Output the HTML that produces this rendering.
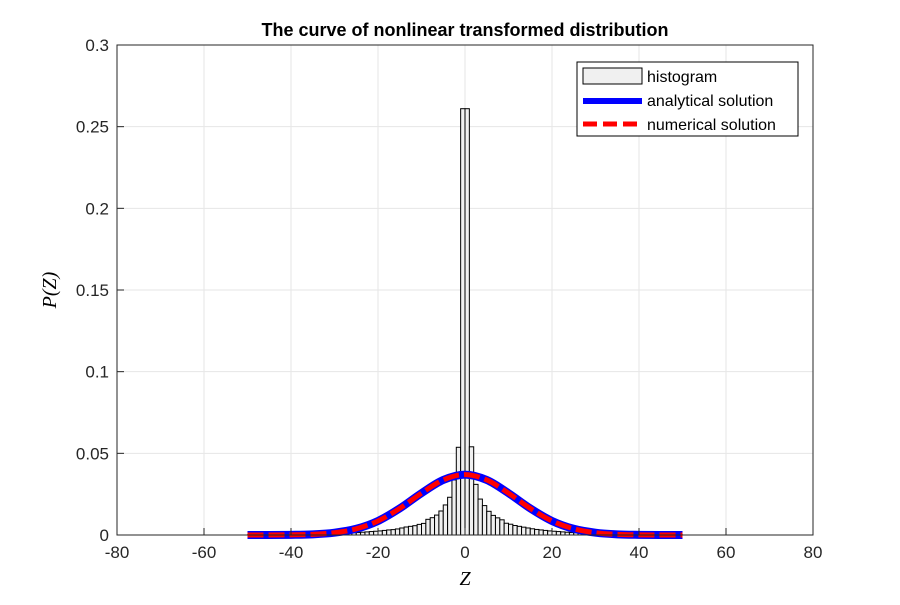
<!DOCTYPE html>
<html><head><meta charset="utf-8"><style>
body{margin:0;background:#fff}
svg text{font-family:"Liberation Sans",sans-serif}
</style></head><body>
<svg id="c" width="900" height="600" xmlns="http://www.w3.org/2000/svg">
<rect width="900" height="600" fill="#fff"/>
<text x="465" y="36" text-anchor="middle" font-size="18" font-weight="bold" fill="#000">The curve of nonlinear transformed distribution</text>
<g id="grid"></g>
<g id="bars"></g>
<g id="curves"></g>
<g id="axes"></g>
<text x="465" y="585" text-anchor="middle" font-size="20" font-style="italic" style="font-family:'Liberation Serif',serif">Z</text>
<text transform="translate(56,290) rotate(-90)" text-anchor="middle" font-size="20" font-style="italic" style="font-family:'Liberation Serif',serif">P(Z)</text>
<g>
<rect x="577" y="62" width="221" height="74" fill="#fff" stroke="#000" stroke-width="1"/>
<rect x="583" y="68" width="59" height="16" fill="#f0f0f0" stroke="#000"/>
<text x="647" y="82" font-size="16">histogram</text>
<line x1="583" y1="101" x2="642" y2="101" stroke="#0000ff" stroke-width="6"/>
<text x="647" y="106" font-size="16">analytical solution</text>
<line x1="583" y1="124" x2="642" y2="124" stroke="#ff0000" stroke-width="5" stroke-dasharray="14,6"/>
<text x="647" y="130" font-size="16">numerical solution</text>
</g>
</svg>
<script>
const xTicks=[-80,-60,-40,-20,0,20,40,60,80];
const yTicks=[0,0.05,0.1,0.15,0.2,0.25,0.3];
const yTickLabels=["0","0.05","0.1","0.15","0.2","0.25","0.3"];
const binStart=-50;
const binWidth=1;
const histRight=[0.261,0.054,0.031,0.022,0.018,0.0145,0.012,0.0105,0.0093,0.0072,0.0066,0.0058,0.0053,0.0048,0.0043,0.0038,0.0034,0.0031,0.0028,0.0025,0.0023,0.0021,0.0019,0.0017,0.0015,0.0014,0.0012,0.0011,0.0010,0.0009,0.0008,0.0007,0.0007,0.0006,0.0005,0.0005,0.0004,0.0004,0.0003,0.0003,0.0003,0.0002,0.0002,0.0002,0.0002,0.0001,0.0001,0.0001,0.0001,0.0001];
const histLeft=[0.0001,0.0001,0.0001,0.0001,0.0001,0.0002,0.0002,0.0002,0.0002,0.0003,0.0003,0.0003,0.0004,0.0004,0.0005,0.0005,0.0006,0.0007,0.0007,0.0008,0.0009,0.0010,0.0011,0.0012,0.0014,0.0015,0.0017,0.0019,0.0021,0.0023,0.0025,0.0028,0.0031,0.0033,0.0037,0.0043,0.0049,0.0053,0.0057,0.0065,0.0071,0.0096,0.0106,0.0122,0.0147,0.0184,0.0231,0.0337,0.0537,0.261];
const curveZ=[-50,-45,-40,-35,-30,-25,-20,-15,-10,-5,0,5,10,15,20,25,30,35,40,45,50];
const curveP=[0,0,0.0001,0.0004,0.0014,0.0038,0.0086,0.0163,0.0256,0.0337,0.037,0.0337,0.0256,0.0163,0.0086,0.0038,0.0014,0.0004,0.0001,0,0];
const L=117,R=813,T=45,B=535;
const sx=v=>L+(v+80)/160*(R-L);
const sy=v=>B-v/0.3*(B-T);
const NS="http://www.w3.org/2000/svg";
function mk(tag,attrs,parent){const e=document.createElementNS(NS,tag);for(const k in attrs)e.setAttribute(k,attrs[k]);parent.appendChild(e);return e;}
const grid=document.getElementById('grid'),axes=document.getElementById('axes'),bars=document.getElementById('bars'),curves=document.getElementById('curves');
xTicks.forEach(t=>{
 const g=mk('line',{x1:sx(t),x2:sx(t),y1:T,y2:B,stroke:'#e6e6e6','stroke-width':1},grid);
 
 
 const tk=mk('line',{x1:sx(t),x2:sx(t),y1:B,y2:B-7,stroke:'#262626'},axes);
 
 
 const tx=mk('text',{x:sx(t),y:B+23,'text-anchor':'middle','font-size':17,fill:'#262626'},axes);
 tx.textContent=String(t);
 
 
});
yTicks.forEach((t,i)=>{
 const g=mk('line',{x1:L,x2:R,y1:sy(t),y2:sy(t),stroke:'#e6e6e6','stroke-width':1},grid);
 
 
 const tk=mk('line',{x1:L,x2:L+7,y1:sy(t),y2:sy(t),stroke:'#262626'},axes);
 
 
 const tx=mk('text',{x:L-8,y:sy(t)+6,'text-anchor':'end','font-size':17,fill:'#262626'},axes);
 tx.textContent=yTickLabels[i];
 
 
});
const hist=histLeft.concat(histRight);
hist.forEach((v,i)=>{
 const z0=binStart+i*binWidth;
 const r=mk('rect',{x:sx(z0),y:sy(v),width:sx(z0+binWidth)-sx(z0),height:B-sy(v),fill:'#f0f0f0',stroke:'#000','stroke-width':1},bars);
 
 
});
function smooth(){const p=curveZ.map((z,i)=>[sx(z),sy(curveP[i])]);let d='M'+p[0][0]+','+p[0][1];
 for(let i=0;i<p.length-1;i++){const p0=p[Math.max(0,i-1)],p1=p[i],p2=p[i+1],p3=p[Math.min(p.length-1,i+2)];
 d+=' C'+(p1[0]+(p2[0]-p0[0])/6)+','+(p1[1]+(p2[1]-p0[1])/6)+' '+(p2[0]-(p3[0]-p1[0])/6)+','+(p2[1]-(p3[1]-p1[1])/6)+' '+p2[0]+','+p2[1];}
 return d;}
const d=smooth();
const a=mk('path',{d:d,fill:'none',stroke:'#0000ff','stroke-width':8},curves);


const n=mk('path',{d:d,fill:'none',stroke:'#ff0000','stroke-width':5,'stroke-dasharray':'16,5'},curves);


const box=mk('rect',{x:L,y:T,width:R-L,height:B-T,fill:'none',stroke:'#262626','stroke-width':1},axes);


</script>
</body></html>
